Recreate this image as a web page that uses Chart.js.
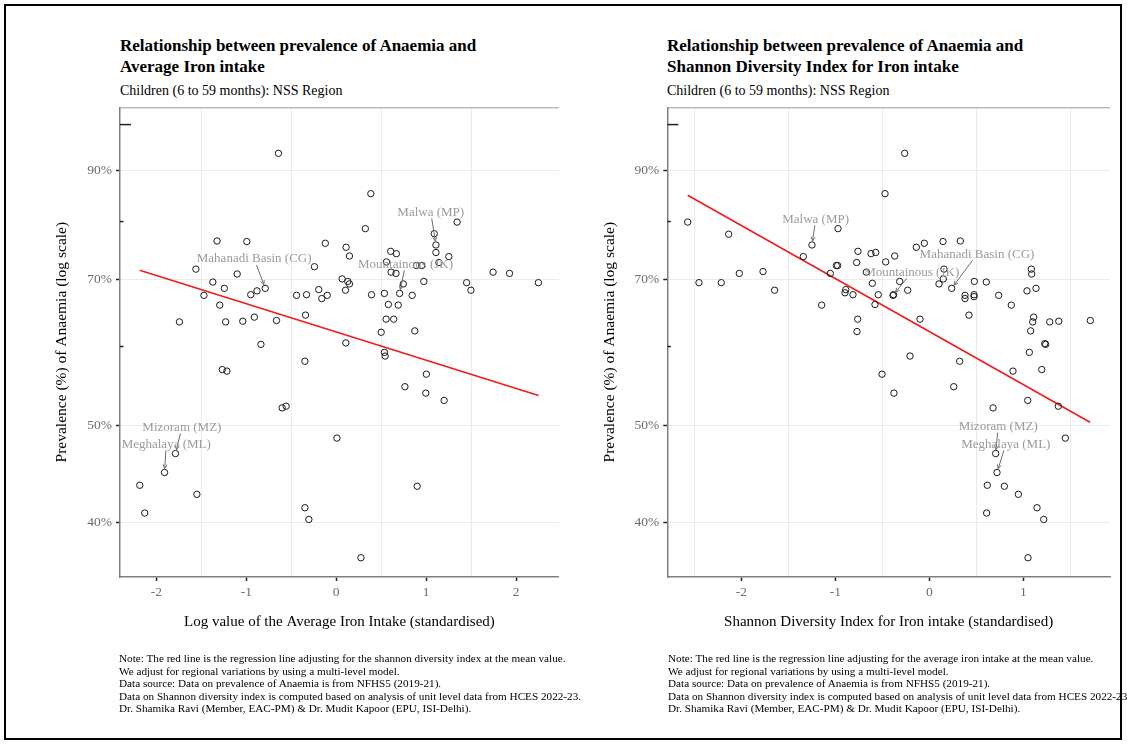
<!DOCTYPE html>
<html><head><meta charset="utf-8">
<script src="https://cdn.jsdelivr.net/npm/chart.js@4.4.1/dist/chart.umd.min.js"></script>
<style>
html,body{margin:0;padding:0;background:#fff;}
body{width:1127px;height:744px;position:relative;overflow:hidden;font-family:"Liberation Serif",serif;}
#frame{position:absolute;left:4px;top:4px;width:1118px;height:736px;border:2px solid #000;box-sizing:border-box;}
canvas{position:absolute;top:0;}
.title{position:absolute;font-weight:bold;font-size:17px;line-height:21px;color:#000;white-space:nowrap;}
.sub{position:absolute;font-size:14px;line-height:17px;color:#000;white-space:nowrap;}
.note{position:absolute;font-size:11.2px;line-height:12.6px;color:#000;white-space:nowrap;}
</style></head>
<body>
<div id="frame"></div>
<div class="title" style="left:120px;top:35px;">Relationship between prevalence of Anaemia and<br>Average Iron intake</div>
<div class="sub" style="left:120px;top:82px;">Children (6 to 59 months): NSS Region</div>
<div class="title" style="left:667px;top:35px;">Relationship between prevalence of Anaemia and<br>Shannon Diversity Index for Iron intake</div>
<div class="sub" style="left:667px;top:82px;">Children (6 to 59 months): NSS Region</div>
<canvas id="c1" width="563" height="744" style="left:0;width:563px;height:744px;"></canvas>
<canvas id="c2" width="564" height="744" style="left:563px;width:564px;height:744px;"></canvas>
<div class="note" style="left:119px;top:652px;">Note: The red line is the regression line adjusting for the shannon diversity index at the mean value.<br>We adjust for regional variations by using a multi-level model.<br>Data source: Data on prevalence of Anaemia is from NFHS5 (2019-21).<br>Data on Shannon diversity index is computed based on analysis of unit level data from HCES 2022-23.<br>Dr. Shamika Ravi (Member, EAC-PM) &amp; Dr. Mudit Kapoor (EPU, ISI-Delhi).</div>
<div class="note" style="left:668px;top:652px;">Note: The red line is the regression line adjusting for the average iron intake at the mean value.<br>We adjust for regional variations by using a multi-level model.<br>Data source: Data on prevalence of Anaemia is from NFHS5 (2019-21).<br>Data on Shannon diversity index is computed based on analysis of unit level data from HCES 2022-23.<br>Dr. Shamika Ravi (Member, EAC-PM) &amp; Dr. Mudit Kapoor (EPU, ISI-Delhi).</div>
<script>
// ---------- data ----------
const yTicks = [40, 50, 60, 70, 80, 90, 100];
const yLabelled = [40, 50, 70, 90];
const ironTicks = [-2, -1.5, -1, -0.5, 0, 0.5, 1, 1.5, 2];
const shannonTicks = [-2.5, -2, -1.5, -1, -0.5, 0, 0.5, 1, 1.5];

const ironX = [-0.642,-1.325,-0.994,-0.121,-1.560,-1.101,-0.242,-1.372,-1.244,-0.881,
  -0.789,-1.471,-0.950,-0.441,-0.330,-0.194,-0.160,-0.100,-1.295,-1.743,
  -1.229,-1.039,-0.910,-0.664,-0.341,-0.837,-0.348,-1.266,-1.215,-0.601,
  -0.557,-1.787,-1.909,-2.184,-1.549,-2.129,-0.348,-0.304,0.385,0.324,
  1.344,0.110,0.147,0.606,0.669,0.558,0.610,0.665,1.090,1.109,
  1.109,1.142,1.252,0.892,0.951,0.066,0.129,0.147,0.103,0.746,
  0.705,0.974,1.450,1.498,1.744,1.927,2.248,0.393,0.536,0.845,
  0.580,0.690,0.555,0.639,0.500,0.874,0.107,0.536,0.544,1.002,
  0.764,0.996,1.200,0.008,0.900,0.275];
const ironPrev = [93.6,76.5,76.4,76.1,71.7,70.9,72.1,69.6,68.6,68.2,
  68.6,67.5,67.6,67.5,67.6,68.4,67.0,67.5,66.0,63.5,
  63.5,63.6,64.2,63.7,64.5,60.3,58.0,56.9,56.7,52.1,
  52.3,46.9,44.9,43.6,42.7,40.9,41.4,40.3,85.3,78.7,
  79.9,75.4,73.9,74.7,74.3,72.9,71.2,71.0,77.8,75.8,
  74.5,72.8,73.8,72.3,72.3,70.1,69.7,69.3,68.3,69.3,
  67.8,69.7,69.5,68.3,71.2,71.0,69.5,67.6,67.8,67.5,
  66.1,66.0,63.9,63.9,62.0,62.2,60.5,59.2,58.7,56.3,
  54.7,53.9,53.0,48.6,43.5,36.9];

const shannonX = [-2.570,-2.134,-2.450,-2.213,-2.021,-1.769,-1.646,-1.248,-1.340,-0.971,
  -0.989,-0.975,-1.053,-1.145,-0.889,-0.897,-0.812,-0.762,-0.769,-0.759,
  -0.773,-0.620,-0.570,-0.670,-0.606,-0.543,-0.578,-0.471,-0.464,-0.262,
  -0.368,-0.138,-0.053,0.146,0.330,-0.315,-0.386,-0.380,-0.230,-0.099,
  0.156,0.149,0.103,0.238,0.380,0.380,0.476,0.476,0.479,0.606,
  0.738,0.872,0.422,1.085,1.089,1.039,1.135,1.110,1.100,1.078,
  1.281,1.377,1.713,1.238,1.228,1.064,-0.205,0.323,-0.503,0.890,
  1.196,-0.376,0.260,1.047,0.678,1.372,1.447,0.706,0.720,0.617,
  0.798,0.947,1.146,0.610,1.217,1.050];
const shannonPrev = [79.9,77.7,69.5,69.5,71.0,71.3,68.3,75.8,73.8,78.7,
  72.3,72.3,71.0,66.0,68.4,67.9,67.6,63.9,62.1,74.7,
  72.8,74.3,74.5,71.2,69.4,67.6,66.1,85.3,72.9,93.6,
  73.9,75.4,76.1,76.4,76.5,69.7,67.5,67.6,68.3,63.9,
  71.7,70.1,69.3,68.6,67.5,67.0,67.6,67.3,69.7,69.6,
  67.5,66.0,64.5,71.7,70.9,68.2,68.6,64.2,63.5,62.2,
  63.5,63.6,63.7,60.3,60.4,59.2,58.7,58.0,56.3,56.7,
  56.9,53.9,54.7,53.0,52.1,52.3,48.6,46.9,44.9,43.6,
  43.5,42.7,41.4,40.9,40.3,36.9];

const ironFitX = [-2.185, 2.25];
const ironFitY = [71.5, 53.6];
const shannonFitX = [-2.57, 1.71];
const shannonFitY = [85.0, 50.4];

const ironLabels = [
  {text:'Mahanadi Basin (CG)', x:-0.912, y:73.4, tx:-0.789, ty:68.6},
  {text:'Malwa (MP)', x:1.051, y:81.7, tx:1.109, ty:75.8},
  {text:'Mountainous (JK)', x:0.771, y:72.5, tx:0.705, ty:67.8},
  {text:'Mizoram (MZ)', x:-1.716, y:49.8, tx:-1.787, ty:46.9},
  {text:'Meghalaya (ML)', x:-1.890, y:47.9, tx:-1.909, ty:44.9}
];
const shannonLabels = [
  {text:'Malwa (MP)', x:-1.209, y:80.4, tx:-1.248, ty:75.8},
  {text:'Mountainous (JK)', x:-0.187, y:71.2, tx:-0.386, ty:67.5},
  {text:'Mahanadi Basin (CG)', x:0.507, y:74.2, tx:0.238, ty:68.6},
  {text:'Mizoram (MZ)', x:0.733, y:49.9, tx:0.706, ty:46.9},
  {text:'Meghalaya (ML)', x:0.814, y:47.9, tx:0.720, ty:44.9}
];

// ---------- drawing ----------
const FONT = 'Liberation Serif';
const decor = {
  id: 'decor',
  afterDatasetsDraw(chart, args, opts) {
    const {ctx, chartArea: a, scales: {x, y}} = chart;
    ctx.save();
    ctx.strokeStyle = '#9a9a9a'; ctx.lineWidth = 1;
    ctx.beginPath(); ctx.moveTo(a.left, a.top + 0.5); ctx.lineTo(a.right, a.top + 0.5); ctx.stroke();
    ctx.strokeStyle = '#222'; ctx.lineWidth = 1.5;
    [60, 80].forEach(v => {
      const py = y.getPixelForValue(v);
      ctx.beginPath(); ctx.moveTo(a.left, py); ctx.lineTo(a.left + 3.5, py); ctx.stroke();
    });
    const p100 = y.getPixelForValue(100);
    ctx.beginPath(); ctx.moveTo(a.left, p100); ctx.lineTo(a.left + 11, p100); ctx.stroke();

    ctx.font = '13px "' + FONT + '"';
    ctx.textAlign = 'center'; ctx.textBaseline = 'middle';
    (opts.labels || []).forEach(l => {
      const cx = x.getPixelForValue(l.x), cy = y.getPixelForValue(l.y);
      const px = x.getPixelForValue(l.tx), py = y.getPixelForValue(l.ty);
      const dx = px - cx, dy = py - cy;
      const t = 6 / Math.abs(dy);
      const sx = cx + dx * t, sy = cy + dy * t;
      const len = Math.hypot(px - sx, py - sy);
      const ux = (px - sx) / len, uy = (py - sy) / len;
      const ex = px - ux * 4, ey = py - uy * 4;
      ctx.strokeStyle = '#6e6e6e'; ctx.lineWidth = 1;
      ctx.beginPath(); ctx.moveTo(sx, sy); ctx.lineTo(ex, ey); ctx.stroke();
      const ang = Math.atan2(uy, ux), h = 4.5;
      ctx.beginPath();
      ctx.moveTo(ex - h * Math.cos(ang - 0.45), ey - h * Math.sin(ang - 0.45));
      ctx.lineTo(ex, ey);
      ctx.lineTo(ex - h * Math.cos(ang + 0.45), ey - h * Math.sin(ang + 0.45));
      ctx.stroke();
      ctx.fillStyle = '#9b9b9b';
      ctx.fillText(l.text, cx, cy);
    });
    ctx.restore();
  }
};

function makeChart(id, xs, ys, fitX, fitY, labels, xTicks, xmin, xmax, xTitle, pad, yW, xH) {
  const isMajorY = v => yLabelled.includes(v);
  const isInt = v => Math.abs(v - Math.round(v)) < 1e-9;
  return new Chart(document.getElementById(id), {
    type: 'scatter',
    data: {
      datasets: [
        {
          data: xs.map((v, i) => ({x: v, y: ys[i]})),
          pointStyle: 'circle', pointRadius: 3.2, pointHoverRadius: 3.2,
          pointBorderWidth: 1, borderColor: '#1a1a1a', backgroundColor: 'rgba(0,0,0,0)'
        },
        {
          type: 'line',
          data: fitX.map((v, i) => ({x: v, y: fitY[i]})),
          borderColor: '#ee1c1c', borderWidth: 1.6, pointRadius: 0, fill: false, tension: 0
        }
      ]
    },
    options: {
      responsive: false, animation: false, devicePixelRatio: 1,
      layout: {padding: pad},
      plugins: {legend: {display: false}, tooltip: {enabled: false}, decor: {labels}},
      scales: {
        x: {
          type: 'linear', min: xmin, max: xmax,
          afterBuildTicks: s => { s.ticks = xTicks.map(v => ({value: v})); },
          afterFit: s => { s.height = xH; },
          ticks: {
            callback: v => isInt(v) ? String(v) : '',
            autoSkip: false, maxRotation: 0, padding: 3,
            font: {family: FONT, size: 13.5}, color: '#6b6b6b'
          },
          grid: {
            color: c => (c.tick && !isInt(c.tick.value)) ? '#ebebeb' : 'rgba(0,0,0,0)',
            tickColor: c => (c.tick && isInt(c.tick.value)) ? '#222' : 'rgba(0,0,0,0)',
            lineWidth: 1, tickLength: 4, tickWidth: 1.5
          },
          border: {display: true, color: '#808080', width: 1.5},
          title: {display: true, text: xTitle, font: {family: FONT, size: 15}, color: '#000', padding: 0}
        },
        y: {
          type: 'logarithmic', min: 35.3, max: 104.06,
          afterBuildTicks: s => { s.ticks = yTicks.map(v => ({value: v})); },
          afterFit: s => { s.width = yW; },
          ticks: {
            callback: v => isMajorY(v) ? v + '%' : '',
            autoSkip: false, padding: 4,
            font: {family: FONT, size: 13.5}, color: '#6b6b6b'
          },
          grid: {
            color: c => (c.tick && isMajorY(c.tick.value)) ? '#ebebeb' : 'rgba(0,0,0,0)',
            tickColor: c => (c.tick && isMajorY(c.tick.value)) ? '#222' : 'rgba(0,0,0,0)',
            lineWidth: 1, tickLength: 4, tickWidth: 1.5
          },
          border: {display: true, color: '#808080', width: 1.5},
          title: {display: true, text: 'Prevalence (%) of Anaemia (log scale)', font: {family: FONT, size: 15.5}, color: '#000', padding: 0}
        }
      }
    },
    plugins: [decor]
  });
}

makeChart('c1', ironX, ironPrev, ironFitX, ironFitY, ironLabels, ironTicks,
  -2.404, 2.475, 'Log value of the Average Iron Intake (standardised)',
  {left: 53, top: 107.3, right: 0, bottom: 113}, 67, 54);
makeChart('c2', shannonX, shannonPrev, shannonFitX, shannonFitY, shannonLabels, shannonTicks,
  -2.787, 1.922, 'Shannon Diversity Index for Iron intake (standardised)',
  {left: 38, top: 107.3, right: 17, bottom: 113}, 66.3, 54);
</script>
</body></html>
